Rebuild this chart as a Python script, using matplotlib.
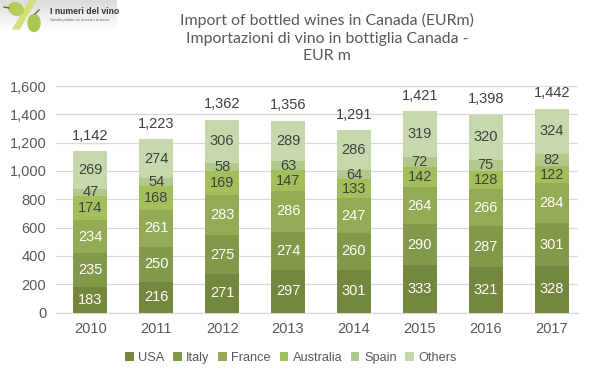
import matplotlib
matplotlib.use('Agg')
import matplotlib.pyplot as plt
import numpy as np
from matplotlib.patches import Ellipse, Polygon

years = ['2010', '2011', '2012', '2013', '2014', '2015', '2016', '2017']
usa = [183, 216, 271, 297, 301, 333, 321, 328]
italy = [235, 250, 275, 274, 260, 290, 287, 301]
france = [234, 261, 283, 286, 247, 264, 266, 284]
australia = [174, 168, 169, 147, 133, 142, 128, 122]
spain = [47, 54, 58, 63, 64, 72, 75, 82]
others = [269, 274, 306, 289, 286, 319, 320, 324]
totals = [1142, 1223, 1362, 1356, 1291, 1421, 1398, 1442]

names = ['USA', 'Italy', 'France', 'Australia', 'Spain', 'Others']
series = [usa, italy, france, australia, spain, others]
colors = ['#73873f', '#82994a', '#93ab55', '#a3bf5c', '#b2c98c', '#c8d8ad']
label_colors = ['white', 'white', 'white', '#404040', '#404040', '#404040']

plt.rcParams['font.family'] = ['Liberation Sans', 'DejaVu Sans']

fig = plt.figure(figsize=(5.99, 3.78), dpi=100)
ax = fig.add_axes([56 / 599, 1 - 312.5 / 378, 522 / 599, 226.5 / 378])

x = np.arange(len(years))
bottom = np.zeros(len(years))
for name, vals, c, lc in zip(names, series, colors, label_colors):
    ax.bar(x, vals, 0.52, bottom=bottom, color=c, label=name, zorder=3)
    for i, v in enumerate(vals):
        ax.text(i, bottom[i] + v / 2, str(v), ha='center', va='center',
                fontsize=10.5, color=lc, zorder=4)
    bottom = bottom + np.array(vals)

for i, t in enumerate(totals):
    ax.text(i, t + 58, f'{t:,}', ha='center', va='bottom', fontsize=10.5, color='#404040')

ax.set_xlim(-0.52, 7.4)
ax.set_ylim(0, 1600)
ax.set_xticks(x)
ax.set_xticklabels(years)
ax.set_yticks(range(0, 1601, 200))
ax.set_yticklabels([f'{v:,}' for v in range(0, 1601, 200)])
ax.tick_params(length=0, labelsize=10.5, labelcolor='#595959', pad=7)
ax.grid(axis='y', color='#d9d9d9', lw=0.9, zorder=0)
ax.set_axisbelow(True)
for s in ['top', 'right', 'left']:
    ax.spines[s].set_visible(False)
ax.spines['bottom'].set_color('#d9d9d9')

fig.legend(loc='center', bbox_to_anchor=(291 / 599, 1 - 358 / 378), ncol=6, frameon=False,
           fontsize=9.2, labelcolor='#595959', handlelength=0.65, handleheight=0.65,
           handletextpad=0.35, columnspacing=0.7)

fig.text(327 / 599, 1 - 38 / 378,
         'Import of bottled wines in Canada (EURm)\nImportazioni di vino in bottiglia Canada -\nEUR m',
         ha='center', va='center', fontsize=11.4, color='#595959', linespacing=1.33,
         family=['Lato', 'Liberation Sans'])

# logo
bg = fig.add_axes([0, 1 - 32 / 378, 117 / 599, 32 / 378], zorder=5)
bg.imshow(np.linspace(0.86, 1, 32).reshape(-1, 1), cmap='gray', vmin=0, vmax=1, aspect='auto')
bg.axis('off')
logo = fig.add_axes([0, 1 - 36 / 378, 117 / 599, 36 / 378], zorder=6)
logo.set_xlim(0, 117)
logo.set_ylim(36, 0)
logo.axis('off')
logo.add_patch(Polygon([(30, 0), (36, 0), (19, 29), (13, 29)], color='#d4e07a'))
logo.add_patch(Ellipse((16, 9), 15, 12, angle=25, color='#b5cc5a'))
logo.add_patch(Ellipse((34, 23), 12, 17, color='#a9c850'))
logo.plot([4, 9], [7, 8], color='#7a5a30', lw=1)
logo.plot([35, 39], [14, 10], color='#7a5a30', lw=1)
logo.text(50, 11.5, 'I numeri del vino', fontsize=6.2, fontweight='bold', color='#333333', va='center')
logo.text(50, 20.5, 'Statistiche, produttori, dati di mercato e di consumo.', fontsize=1.9, color='#666666', va='center')

fig.savefig('out.png', dpi=100)
